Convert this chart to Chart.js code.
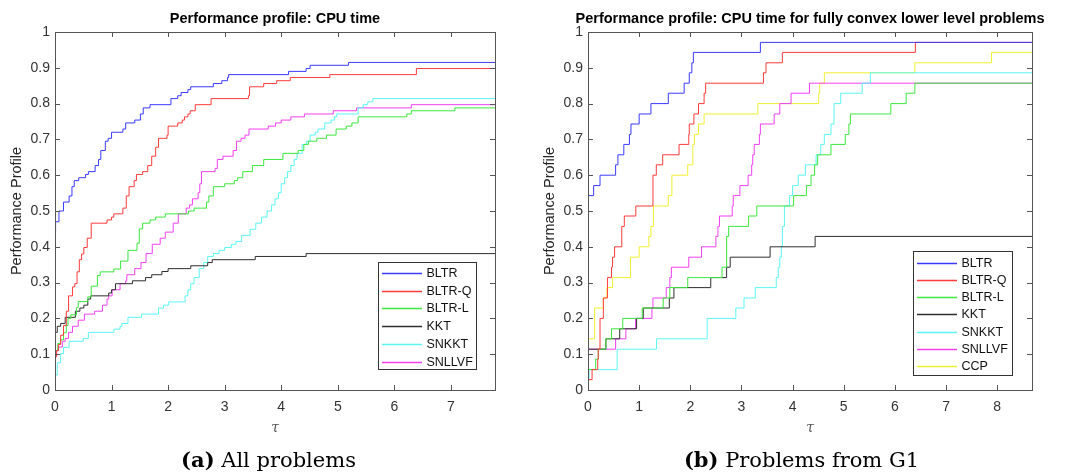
<!DOCTYPE html>
<html>
<head>
<meta charset="utf-8">
<title>Performance profiles</title>
<script src="https://cdn.jsdelivr.net/npm/chart.js@4.4.0/dist/chart.umd.min.js"></script>
<style>
  html, body { margin: 0; padding: 0; background: #fff; }
  #wrap { position: relative; width: 1066px; height: 474px; }
  canvas { position: absolute; top: 0; }
  #chartA { left: 0; }
  #chartB { left: 533px; }
</style>
</head>
<body>
<div id="wrap">
  <canvas id="chartA" width="533" height="474"></canvas>
  <canvas id="chartB" width="533" height="474"></canvas>
</div>
<script>
// ---------------- Data ----------------
const SOLVERS_A = ["BLTR", "BLTR-Q", "BLTR-L", "KKT", "SNKKT", "SNLLVF"];
const SOLVERS_B = ["BLTR", "BLTR-Q", "BLTR-L", "KKT", "SNKKT", "SNLLVF", "CCP"];
const X_TICKS_A = [0, 1, 2, 3, 4, 5, 6, 7];
const X_TICKS_B = [0, 1, 2, 3, 4, 5, 6, 7, 8];
const Y_TICKS = [0, 0.1, 0.2, 0.3, 0.4, 0.5, 0.6, 0.7, 0.8, 0.9, 1];
const X_MAX_A = 7.78;
const X_MAX_B = 8.68;

// panel (a): [tau, rho] breakpoints
const A_BLTR = [[0,0.169],[0,0.441],[0.01,0.47],[0.07,0.5],[0.15,0.525],[0.25,0.542],[0.3,0.568],[0.34,0.585],[0.42,0.593],[0.54,0.602],[0.59,0.61],[0.71,0.627],[0.77,0.644],[0.81,0.669],[0.89,0.695],[0.94,0.703],[1.0,0.72],[1.2,0.729],[1.25,0.746],[1.41,0.754],[1.51,0.771],[1.56,0.788],[1.68,0.797],[2.05,0.814],[2.17,0.822],[2.23,0.831],[2.35,0.839],[2.4,0.847],[2.8,0.856],[2.95,0.864],[3.05,0.873],[3.07,0.881],[4.13,0.89],[4.44,0.898],[4.51,0.907],[5.19,0.915],[8,0.915]];
const A_BLTRQ = [[0,0.093],[0.03,0.11],[0.06,0.127],[0.1,0.153],[0.15,0.18],[0.2,0.22],[0.24,0.263],[0.31,0.288],[0.35,0.297],[0.39,0.33],[0.43,0.364],[0.47,0.38],[0.51,0.398],[0.57,0.424],[0.64,0.466],[0.92,0.475],[1.0,0.483],[1.04,0.492],[1.2,0.508],[1.26,0.542],[1.31,0.568],[1.4,0.585],[1.44,0.602],[1.55,0.61],[1.64,0.627],[1.71,0.653],[1.78,0.678],[1.83,0.703],[1.98,0.712],[2.0,0.737],[2.17,0.746],[2.25,0.754],[2.29,0.763],[2.35,0.771],[2.39,0.78],[2.48,0.797],[2.76,0.814],[3.42,0.822],[3.44,0.847],[3.69,0.856],[3.92,0.864],[4.16,0.873],[4.86,0.881],[6.39,0.898],[8,0.898]];
const A_BLTRL = [[0,0.11],[0.05,0.13],[0.1,0.14],[0.15,0.16],[0.2,0.18],[0.23,0.2],[0.28,0.21],[0.38,0.23],[0.41,0.247],[0.58,0.26],[0.64,0.29],[0.75,0.32],[0.8,0.33],[1.04,0.338],[1.16,0.36],[1.29,0.39],[1.45,0.41],[1.49,0.45],[1.55,0.466],[1.68,0.475],[1.78,0.483],[1.95,0.492],[2.36,0.5],[2.46,0.508],[2.68,0.525],[2.72,0.542],[2.8,0.568],[3.0,0.576],[3.17,0.585],[3.23,0.593],[3.32,0.61],[3.49,0.627],[3.69,0.644],[4.03,0.661],[4.3,0.669],[4.4,0.686],[4.48,0.695],[4.63,0.703],[4.8,0.712],[4.97,0.729],[5.15,0.737],[5.25,0.746],[5.36,0.763],[6.22,0.771],[6.3,0.78],[7.07,0.788],[8,0.788]];
const A_KKT = [[0,0.161],[0.04,0.178],[0.1,0.186],[0.18,0.203],[0.36,0.22],[0.44,0.229],[0.51,0.237],[0.58,0.254],[0.63,0.263],[0.95,0.271],[1.0,0.28],[1.07,0.297],[1.37,0.305],[1.6,0.314],[1.71,0.322],[1.89,0.331],[2.0,0.339],[2.4,0.347],[2.7,0.356],[2.78,0.364],[3.54,0.373],[4.44,0.381],[8,0.381]];
const A_SNKKT = [[0,0.042],[0.04,0.076],[0.1,0.102],[0.15,0.119],[0.25,0.136],[0.5,0.144],[0.59,0.161],[1.04,0.17],[1.15,0.178],[1.18,0.186],[1.29,0.203],[1.53,0.212],[1.83,0.229],[1.92,0.237],[2.01,0.246],[2.3,0.263],[2.35,0.28],[2.4,0.297],[2.46,0.314],[2.55,0.339],[2.63,0.356],[2.7,0.373],[2.8,0.381],[2.9,0.39],[3.0,0.398],[3.12,0.407],[3.2,0.415],[3.3,0.432],[3.45,0.449],[3.55,0.466],[3.65,0.483],[3.75,0.5],[3.83,0.517],[3.89,0.534],[3.95,0.551],[4.0,0.576],[4.06,0.593],[4.11,0.61],[4.17,0.627],[4.23,0.644],[4.28,0.661],[4.37,0.686],[4.45,0.695],[4.51,0.712],[4.6,0.72],[4.65,0.729],[4.77,0.746],[4.88,0.754],[4.94,0.763],[4.98,0.771],[5.36,0.788],[5.45,0.797],[5.53,0.805],[5.62,0.814],[8,0.814]];
const A_SNLLVF = [[0,0],[0,0.093],[0.02,0.11],[0.06,0.12],[0.13,0.136],[0.18,0.144],[0.24,0.161],[0.31,0.178],[0.41,0.195],[0.52,0.212],[0.7,0.22],[0.84,0.237],[0.92,0.254],[0.95,0.263],[1.01,0.28],[1.15,0.297],[1.25,0.305],[1.27,0.322],[1.41,0.339],[1.52,0.356],[1.61,0.381],[1.72,0.407],[1.86,0.424],[1.95,0.441],[2.09,0.466],[2.18,0.492],[2.32,0.508],[2.38,0.517],[2.43,0.534],[2.53,0.551],[2.56,0.576],[2.59,0.61],[2.83,0.619],[2.87,0.644],[2.97,0.653],[3.15,0.669],[3.21,0.695],[3.29,0.703],[3.36,0.712],[3.43,0.729],[3.77,0.737],[3.9,0.746],[4.0,0.754],[4.17,0.763],[4.41,0.771],[4.92,0.78],[5.33,0.788],[6.3,0.797],[8,0.797]];

// panel (b): [tau, rho] breakpoints
const B_BLTR = [[0,0.143],[0,0.543],[0.11,0.571],[0.235,0.6],[0.54,0.629],[0.585,0.657],[0.7,0.686],[0.81,0.714],[0.84,0.743],[1.0,0.771],[1.23,0.8],[1.57,0.829],[1.88,0.857],[1.98,0.886],[2.03,0.914],[2.06,0.943],[3.37,0.971],[9,0.971]];
const B_BLTRQ = [[0,0.029],[0.08,0.057],[0.19,0.086],[0.2,0.114],[0.235,0.2],[0.3,0.257],[0.38,0.314],[0.46,0.343],[0.48,0.371],[0.52,0.4],[0.66,0.457],[0.71,0.486],[0.935,0.514],[1.27,0.6],[1.335,0.629],[1.46,0.657],[1.78,0.686],[1.97,0.714],[1.98,0.743],[2.07,0.771],[2.16,0.8],[2.27,0.829],[2.3,0.857],[3.43,0.886],[3.48,0.914],[3.8,0.943],[6.4,0.971],[9,0.971]];
const B_BLTRL = [[0,0.057],[0.15,0.086],[0.2,0.114],[0.35,0.143],[0.46,0.171],[0.68,0.2],[1.06,0.229],[1.47,0.257],[1.6,0.286],[1.95,0.314],[2.62,0.343],[2.71,0.429],[2.75,0.457],[3.14,0.486],[3.3,0.514],[4.02,0.543],[4.27,0.571],[4.36,0.6],[4.43,0.629],[4.49,0.657],[4.75,0.686],[5.03,0.714],[5.1,0.743],[5.13,0.771],[5.92,0.8],[6.22,0.829],[6.39,0.857],[9,0.857]];
const B_KKT = [[0,0.114],[0.35,0.143],[0.62,0.171],[0.95,0.2],[1.08,0.229],[1.59,0.257],[1.68,0.286],[2.4,0.314],[2.71,0.343],[2.78,0.371],[3.56,0.4],[4.44,0.429],[9,0.429]];
const B_SNKKT = [[0,0.029],[0.02,0.057],[0.57,0.114],[1.34,0.143],[2.33,0.2],[2.89,0.229],[3.05,0.257],[3.27,0.286],[3.68,0.314],[3.72,0.343],[3.75,0.371],[3.78,0.4],[3.8,0.457],[3.84,0.514],[3.94,0.543],[4.0,0.571],[4.11,0.6],[4.25,0.629],[4.46,0.657],[4.55,0.686],[4.62,0.714],[4.75,0.743],[4.81,0.8],[4.94,0.829],[5.36,0.857],[5.52,0.886],[9,0.886]];
const B_SNLLVF = [[0,0.114],[0.54,0.143],[0.74,0.171],[0.93,0.2],[1.25,0.229],[1.27,0.257],[1.53,0.286],[1.6,0.314],[1.63,0.343],[1.97,0.371],[2.22,0.4],[2.5,0.429],[2.54,0.457],[2.57,0.486],[2.82,0.514],[2.84,0.543],[2.97,0.571],[3.13,0.6],[3.2,0.629],[3.22,0.657],[3.25,0.686],[3.35,0.714],[3.37,0.743],[3.64,0.771],[3.75,0.8],[3.97,0.829],[4.33,0.857],[9,0.857]];
const B_CCP = [[0,0.029],[0,0.143],[0.13,0.229],[0.3,0.257],[0.37,0.286],[0.48,0.314],[0.83,0.371],[1.0,0.4],[1.19,0.429],[1.23,0.457],[1.28,0.514],[1.57,0.543],[1.64,0.6],[1.95,0.629],[2.05,0.686],[2.08,0.714],[2.16,0.743],[2.27,0.771],[3.32,0.8],[4.51,0.829],[4.53,0.857],[4.62,0.886],[6.39,0.914],[7.89,0.943],[9,0.943]];

// ---------------- Styles ----------------
const COLORS = {
    "BLTR": "#3a3aff",
    "BLTR-Q": "#ff3b3b",
    "BLTR-L": "#3ce83c",
    "KKT": "#2e2e2e",
    "SNKKT": "#5cf5f5",
    "SNLLVF": "#f23ff2",
    "CCP": "#f0f030"
};
const SANS = '"Liberation Sans", Arial, sans-serif';
const SERIF = '"DejaVu Serif", serif';

// ---------------- Axes box, inward ticks, texts, legend ----------------
const matlabAxes = {
    id: "matlabAxes",
    afterDraw(chart, args, o) {
        const { ctx, chartArea: a } = chart;
        const xs = chart.scales.x, ys = chart.scales.y;
        const cx = (a.left + a.right) / 2;
        ctx.save();

        // box + ticks
        ctx.strokeStyle = "#555";
        ctx.lineWidth = 1;
        ctx.strokeRect(a.left + 0.5, a.top + 0.5, a.right - a.left, a.bottom - a.top);
        ctx.beginPath();
        o.xTicks.forEach(v => {
            const px = Math.round(xs.getPixelForValue(v)) + 0.5;
            ctx.moveTo(px, a.bottom); ctx.lineTo(px, a.bottom - 5);
            ctx.moveTo(px, a.top); ctx.lineTo(px, a.top + 5);
        });
        Y_TICKS.forEach(v => {
            const py = Math.round(ys.getPixelForValue(v)) + 0.5;
            ctx.moveTo(a.left, py); ctx.lineTo(a.left + 5, py);
            ctx.moveTo(a.right, py); ctx.lineTo(a.right - 5, py);
        });
        ctx.stroke();

        // title
        ctx.fillStyle = "#000";
        ctx.textAlign = "center";
        ctx.textBaseline = "middle";
        ctx.font = "bold 14.5px " + SANS;
        ctx.fillText(o.title, cx, 19);

        // y label
        ctx.save();
        ctx.translate(17, (a.top + a.bottom) / 2);
        ctx.rotate(-Math.PI / 2);
        ctx.fillStyle = "#262626";
        ctx.font = "14.5px " + SANS;
        ctx.fillText("Performance Profile", 0, 0);
        ctx.restore();

        // x label
        ctx.fillStyle = "#555";
        ctx.font = "italic 14px " + SERIF;
        ctx.fillText("τ", cx, 428);

        // legend
        const lg = o.legend;
        const bx = a.right - lg.right - lg.w, by = a.bottom - lg.bottom - lg.h;
        ctx.fillStyle = "#fff";
        ctx.fillRect(bx, by, lg.w, lg.h);
        ctx.strokeStyle = "#333";
        ctx.strokeRect(bx + 0.5, by + 0.5, lg.w, lg.h);
        ctx.textAlign = "left";
        ctx.font = "12.5px " + SANS;
        chart.data.datasets.forEach((ds, i) => {
            const ry = Math.round(by + lg.first + i * lg.row) + 0.5;
            ctx.strokeStyle = ds.borderColor;
            ctx.lineWidth = 1.5;
            ctx.beginPath();
            ctx.moveTo(bx + 4, ry); ctx.lineTo(bx + 44, ry);
            ctx.stroke();
            ctx.fillStyle = "#111";
            ctx.fillText(ds.label, bx + 48.5, ry + 0.5);
        });

        // caption under the panel
        ctx.fillStyle = "#000";
        ctx.textBaseline = "alphabetic";
        ctx.font = "bold 21px " + SERIF;
        const w1 = ctx.measureText(o.tag).width;
        ctx.font = "21px " + SERIF;
        const w2 = ctx.measureText(o.caption).width;
        const sx = 268.5 - (w1 + w2) / 2;
        ctx.font = "bold 21px " + SERIF;
        ctx.fillText(o.tag, sx, 467);
        ctx.font = "21px " + SERIF;
        ctx.fillText(o.caption, sx + w1, 467);

        ctx.restore();
    }
};

// ---------------- Build a panel ----------------
function buildPanel(canvasId, names, series, xMax, xTicks, padRight, deco) {
    const datasets = names.map((name, i) => ({
        label: name,
        data: series[i].map(p => ({ x: p[0], y: p[1] })),
        borderColor: COLORS[name],
        borderWidth: 1,
        pointRadius: 0,
        stepped: true,
        fill: false
    }));

    const tickFont = { family: SANS, size: 14 };

    return new Chart(document.getElementById(canvasId), {
        type: "line",
        data: { datasets: datasets },
        plugins: [matlabAxes],
        options: {
            responsive: false,
            animation: false,
            events: [],
            layout: { padding: { left: 0, top: 32, right: padRight, bottom: 0 } },
            scales: {
                x: {
                    type: "linear",
                    min: 0,
                    max: xMax,
                    afterBuildTicks: s => { s.ticks = xTicks.map(v => ({ value: v })); },
                    afterFit: s => { s.height = 84; },
                    grid: { display: false, drawTicks: false },
                    border: { display: false },
                    ticks: { font: tickFont, color: "#333", padding: 9, maxRotation: 0, autoSkip: false, callback: v => String(v) }
                },
                y: {
                    type: "linear",
                    min: 0,
                    max: 1,
                    afterBuildTicks: s => { s.ticks = Y_TICKS.map(v => ({ value: v })); },
                    afterFit: s => { s.width = 55; },
                    grid: { display: false, drawTicks: false },
                    border: { display: false },
                    ticks: { font: tickFont, color: "#333", padding: 5, autoSkip: false, callback: v => String(v) }
                }
            },
            plugins: {
                legend: { display: false },
                tooltip: { enabled: false },
                matlabAxes: Object.assign({ xTicks: xTicks }, deco)
            }
        }
    });
}

buildPanel("chartA", SOLVERS_A,
    [A_BLTR, A_BLTRQ, A_BLTRL, A_KKT, A_SNKKT, A_SNLLVF],
    X_MAX_A, X_TICKS_A, 38, {
        title: "Performance profile: CPU time",
        tag: "(a)",
        caption: " All problems",
        legend: { w: 98, h: 107, right: 19, bottom: 21, first: 11, row: 17.7 }
    });

buildPanel("chartB", SOLVERS_B,
    [B_BLTR, B_BLTRQ, B_BLTRL, B_KKT, B_SNKKT, B_SNLLVF, B_CCP],
    X_MAX_B, X_TICKS_B, 34, {
        title: "Performance profile: CPU time for fully convex lower level problems",
        tag: "(b)",
        caption: " Problems from G1",
        legend: { w: 99, h: 124, right: 20, bottom: 15, first: 11.7, row: 17.2 }
    });
</script>
</body>
</html>
